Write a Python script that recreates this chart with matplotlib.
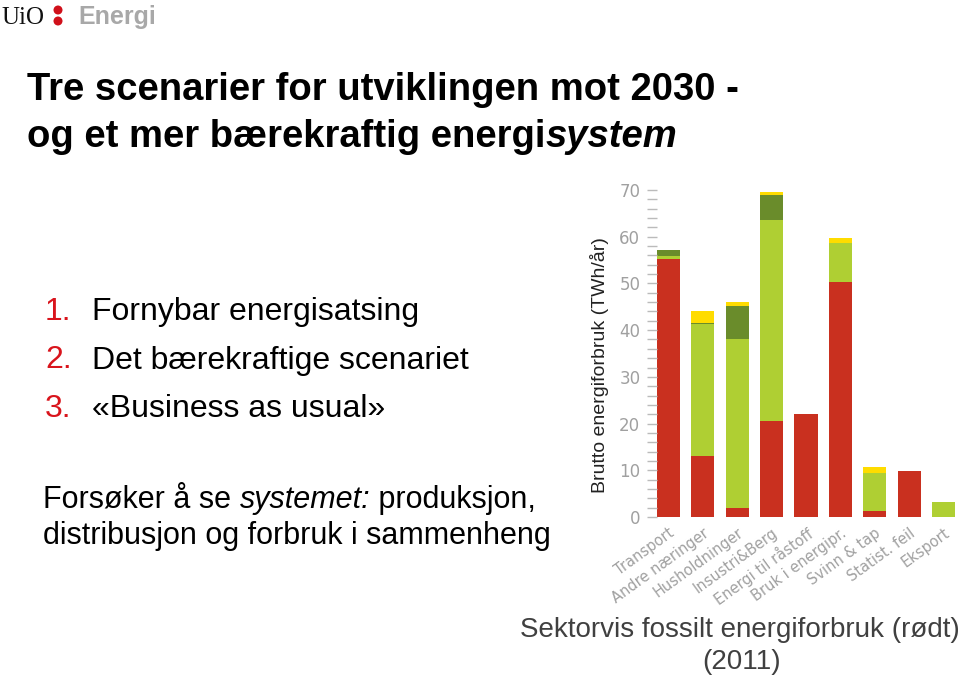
import numpy as np
import matplotlib
matplotlib.use('Agg')
import matplotlib.pyplot as plt
from matplotlib.patches import Circle

plt.rcParams['font.family'] = ['Liberation Sans', 'DejaVu Sans']

# data (TWh/år, 2011)
sektorer = ['Transport', 'Andre næringer', 'Husholdninger', 'Insustri&Berg',
            'Energi til råstoff', 'Bruk i energipr.', 'Svinn & tap',
            'Statist. feil', 'Eksport']
fossilt = [55.2, 13.1, 2.0, 20.6, 22.1, 50.2, 1.3, 9.85, 0]
lysegronn = [0.7, 28.2, 36.0, 43.0, 0, 8.4, 8.1, 0, 3.3]
morkegronn = [1.3, 0.3, 7.2, 5.4, 0, 0, 0, 0, 0]
gul = [0, 2.6, 0.9, 0.5, 0, 1.2, 1.2, 0, 0]

farger = {'rod': '#C9301F', 'lysegronn': '#AFCF33', 'morkegronn': '#6A8C2B', 'gul': '#FFDC00'}

W, H = 959, 676
fig = plt.figure(figsize=(W / 100, H / 100), dpi=100)


def px(x, y):
    return x / W, 1 - y / H


def tekst_etter(forrige, s, **kw):
    # plasser tekst rett etter en annen tekst på samme linje
    r = fig.canvas.get_renderer()
    bb = forrige.get_window_extent(renderer=r)
    x0, y0 = forrige.get_position()
    return fig.text(bb.x1 / W, y0, s, va='baseline', **kw)


# logo
fig.text(*px(1, 24), 'UiO', family='Liberation Serif', fontsize=18, va='baseline', color='#111111')
for yy in (10, 21):
    fig.add_artist(Circle((58 / 100, (H - yy) / 100), 0.045, transform=fig.dpi_scale_trans,
                          color='#D0101A', lw=0))
fig.text(*px(78, 24), 'Energi', fontsize=18, fontweight='bold', va='baseline', color='#A8A8A8')

# tittel
fig.text(*px(27, 100), 'Tre scenarier for utviklingen mot 2030 -', fontsize=27.5,
         fontweight='bold', va='baseline')
t = fig.text(*px(27, 147), 'og et mer bærekraftig energi', fontsize=27.5,
             fontweight='bold', va='baseline')
tekst_etter(t, 'system', fontsize=27.5, fontweight='bold', style='italic')

# liste
punkter = ['Fornybar energisatsing', 'Det bærekraftige scenariet', '«Business as usual»']
for i, p in enumerate(punkter):
    yb = 320 + i * 48.5
    fig.text(*px(45, yb), f'{i + 1}.', fontsize=23, color='#D9141C', va='baseline')
    fig.text(*px(92, yb), p, fontsize=23, va='baseline')

t = fig.text(*px(43, 508), 'Forsøker å se ', fontsize=22, va='baseline')
t = tekst_etter(t, 'systemet:', fontsize=22, style='italic')
tekst_etter(t, ' produksjon,', fontsize=22)
fig.text(*px(43, 544), 'distribusjon og forbruk i sammenheng', fontsize=22, va='baseline')

# stolpediagram
ax = fig.add_axes([657 / W, 1 - 517 / H, 298 / W, 327 / H])
x = np.arange(len(sektorer))
b = 0.67
bunn = np.zeros(len(sektorer))
for verdier, farge in [(fossilt, 'rod'), (lysegronn, 'lysegronn'),
                       (morkegronn, 'morkegronn'), (gul, 'gul')]:
    ax.bar(x, verdier, b, bottom=bunn, color=farger[farge], lw=0)
    bunn += np.array(verdier)

ax.set_xlim(-b / 2, len(sektorer) - 1 + b / 2)
ax.set_ylim(0, 70)
for s in ax.spines.values():
    s.set_visible(False)
ax.set_yticks(range(0, 71, 10))
ax.set_yticks(range(0, 71, 2), minor=True)
ax.tick_params(axis='y', which='both', colors='#BBBBBB', length=7, width=1, pad=5,
               labelsize=12, labelcolor='#A0A0A0')
for lab in ax.get_yticklabels():
    lab.set_family('DejaVu Sans')
ax.set_xticks(x)
ax.set_xticklabels(sektorer, rotation=36, ha='right', rotation_mode='anchor',
                   fontsize=10.5, color='#A0A0A0', family='DejaVu Sans')
ax.tick_params(axis='x', length=0, pad=6)
ax.set_ylabel('Brutto energiforbruk (TWh/år)', fontsize=14, color='#222222')
ax.yaxis.set_label_coords(-0.16, 0.465)

fig.text(*px(740, 637), 'Sektorvis fossilt energiforbruk (rødt)', fontsize=20,
         color='#404040', ha='center', va='baseline')
fig.text(*px(742, 669), '(2011)', fontsize=20, color='#404040', ha='center', va='baseline')

fig.savefig('out.png', dpi=100)
